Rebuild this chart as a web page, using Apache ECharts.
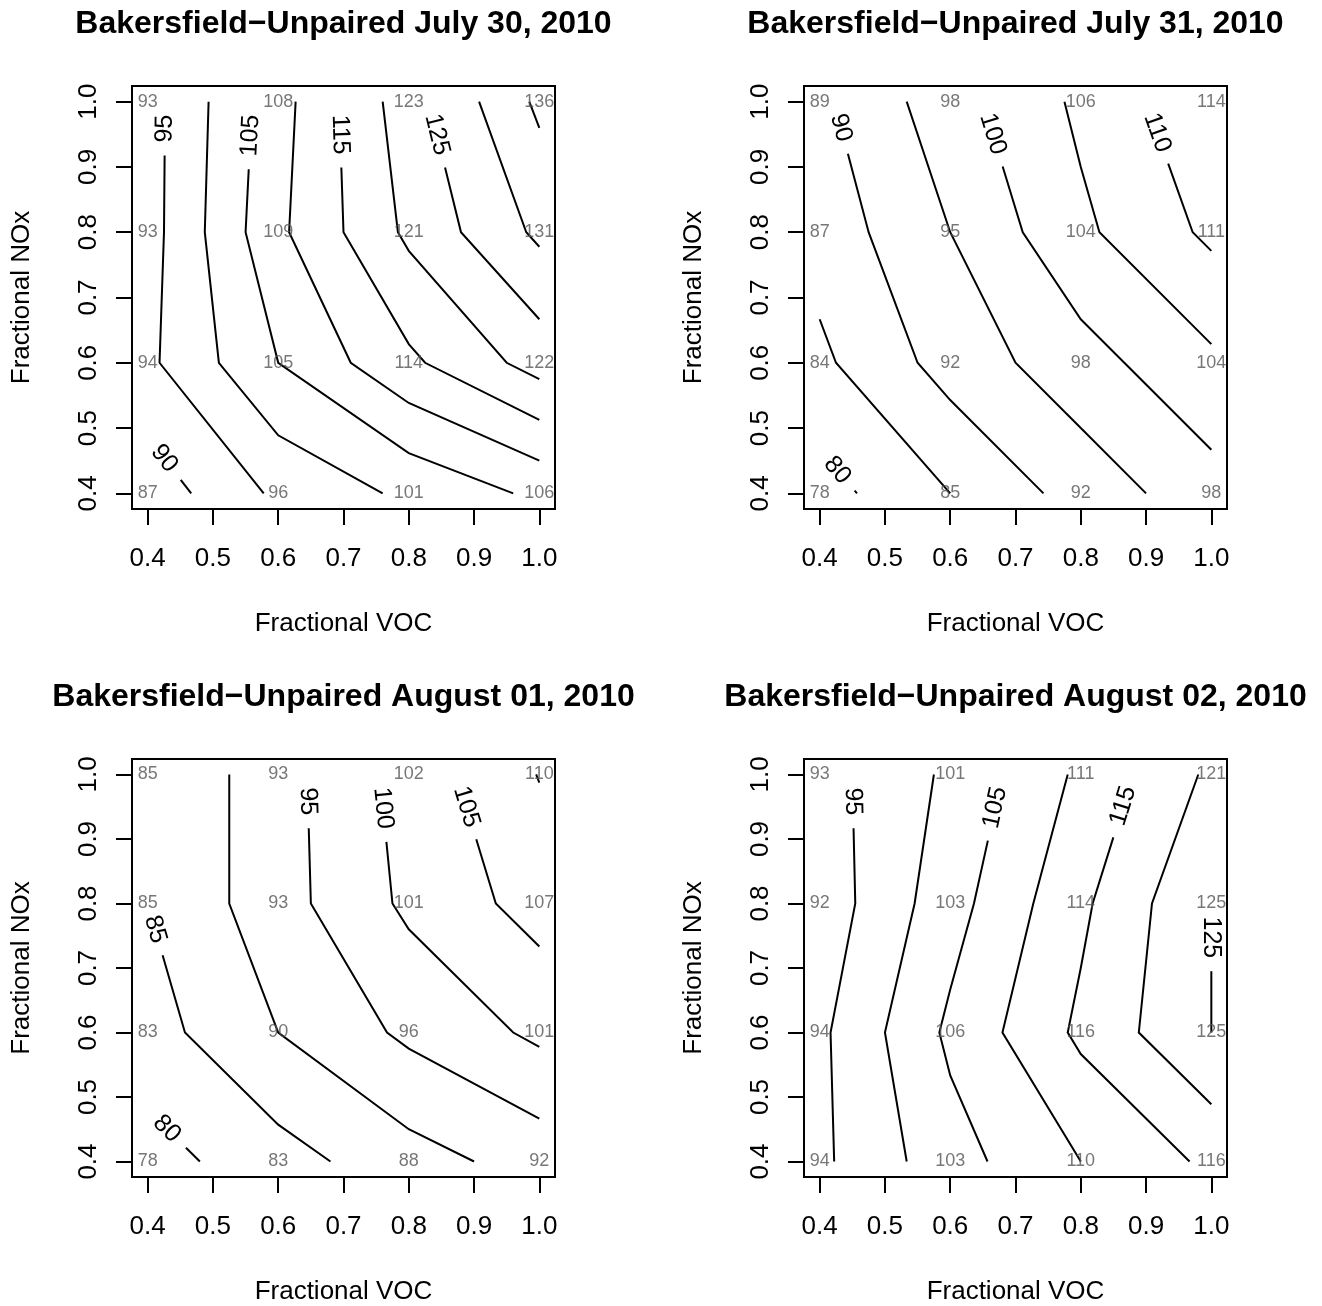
<!DOCTYPE html>
<html>
<head>
<meta charset="utf-8">
<script src="https://cdn.jsdelivr.net/npm/echarts@6.0.0/dist/echarts.min.js"></script>
<style>
  html, body { margin: 0; padding: 0; background: #fff; }
  #main { width: 1322px; height: 1306px; }
</style>
</head>
<body>
<div id="main"></div>
<script>
// axis ticks and the 4x4 model grid
var tickValues = [0.4, 0.5, 0.6, 0.7, 0.8, 0.9, 1.0];
var vocGrid = [0.4, 0.6, 0.8, 1.0];
var noxGrid = [1.0, 0.8, 0.6, 0.4];   // row order of the tables below (top row first)

var panelTitles = [
  'Bakersfield\u2212Unpaired July 30, 2010',
  'Bakersfield\u2212Unpaired July 31, 2010',
  'Bakersfield\u2212Unpaired August 01, 2010',
  'Bakersfield\u2212Unpaired August 02, 2010'
];

// ozone at each grid point, rows NOx 1.0 -> 0.4, columns VOC 0.4 -> 1.0
var jul30 = [[93, 108, 123, 136], [93, 109, 121, 131], [94, 105, 114, 122], [87, 96, 101, 106]];
var jul31 = [[89, 98, 106, 114], [87, 95, 104, 111], [84, 92, 98, 104], [78, 85, 92, 98]];
var aug01 = [[85, 93, 102, 110.2], [85, 93, 101, 107], [83, 90, 96, 101], [78, 83, 88, 92]];
var aug02 = [[93, 101, 111, 121], [92, 103, 114, 125], [94, 106, 116, 125], [94, 103, 110, 116]];

// contour levels and the ones that carry a label
var jul30Levels = [90, 95, 100, 105, 110, 115, 120, 125, 130, 135];
var jul30Labeled = [90, 95, 105, 115, 125];
var jul31Levels = [80, 85, 90, 95, 100, 105, 110];
var jul31Labeled = [80, 90, 100, 110];
var aug01Levels = [80, 85, 90, 95, 100, 105, 110];
var aug01Labeled = [80, 85, 95, 100, 105];
var aug02Levels = [95, 100, 105, 110, 115, 120, 125];
var aug02Labeled = [95, 105, 115, 125];

var FONT = 'Liberation Sans';
var LABEL_SIZE = 25;
var LABEL_PAD = 13;

var panels = [
  { values: jul30, levels: jul30Levels, labeled: jul30Labeled, left: 132, top: 86 },
  { values: jul31, levels: jul31Levels, labeled: jul31Labeled, left: 804, top: 86 },
  { values: aug01, levels: aug01Levels, labeled: aug01Labeled, left: 132, top: 759 },
  { values: aug02, levels: aug02Levels, labeled: aug02Labeled, left: 804, top: 759 }
];

// marching squares on the grid, chained into polylines
function contourLines(rows, level) {
  var xs = vocGrid, ys = noxGrid.slice().reverse();
  var z = rows.slice().reverse();
  function above(v) { return v >= level; }
  function cross(i0, j0, i1, j1) {
    var a = z[j0][i0], b = z[j1][i1];
    if (above(a) === above(b)) return null;
    var t = (level - a) / (b - a);
    return [xs[i0] + t * (xs[i1] - xs[i0]), ys[j0] + t * (ys[j1] - ys[j0])];
  }
  var segs = [];
  for (var j = 0; j < ys.length - 1; j++) {
    for (var i = 0; i < xs.length - 1; i++) {
      var e = [
        { key: 'h' + i + '_' + j, p: cross(i, j, i + 1, j) },
        { key: 'v' + (i + 1) + '_' + j, p: cross(i + 1, j, i + 1, j + 1) },
        { key: 'h' + i + '_' + (j + 1), p: cross(i, j + 1, i + 1, j + 1) },
        { key: 'v' + i + '_' + j, p: cross(i, j, i, j + 1) }
      ];
      var hit = e.filter(function (x) { return x.p; });
      if (hit.length === 2) segs.push(hit);
      else if (hit.length === 4) {
        var c = (z[j][i] + z[j][i + 1] + z[j + 1][i] + z[j + 1][i + 1]) / 4;
        if (above(c) === above(z[j][i])) { segs.push([e[0], e[1]]); segs.push([e[2], e[3]]); }
        else { segs.push([e[0], e[3]]); segs.push([e[1], e[2]]); }
      }
    }
  }
  var byKey = {}, used = [];
  segs.forEach(function (s, k) {
    s.forEach(function (x) { (byKey[x.key] = byKey[x.key] || []).push(k); });
  });
  function walk(k, fromKey) {
    var first = segs[k][0].key === fromKey ? segs[k][0] : segs[k][1];
    var pts = [first.p], cur = k, curKey = first.key;
    while (cur !== undefined && !used[cur]) {
      used[cur] = true;
      var s = segs[cur];
      var out = s[0].key === curKey ? s[1] : s[0];
      pts.push(out.p);
      curKey = out.key;
      cur = byKey[curKey].filter(function (m) { return !used[m]; })[0];
    }
    return pts;
  }
  var lines = [];
  segs.forEach(function (s, k) {
    s.forEach(function (x) {
      if (!used[k] && byKey[x.key].length === 1) lines.push(walk(k, x.key));
    });
  });
  segs.forEach(function (s, k) { if (!used[k]) lines.push(walk(k, s[0].key)); });
  // start from the upper (then left) end, where the label goes
  return lines.map(function (pts) {
    var a = pts[0], b = pts[pts.length - 1];
    if (b[1] > a[1] + 1e-9 || (Math.abs(b[1] - a[1]) < 1e-9 && b[0] < a[0])) pts.reverse();
    return pts;
  });
}

var measureCtx = document.createElement('canvas').getContext('2d');
function textWidth(s, size) {
  measureCtx.font = size + 'px "' + FONT + '"';
  return measureCtx.measureText(s).width;
}

function splitAtLabel(px, gap) {
  var acc = 0, mid = null, ang = 0, rest = null, half = gap / 2;
  for (var i = 0; i < px.length - 1; i++) {
    var a = px[i], b = px[i + 1];
    var len = Math.hypot(b[0] - a[0], b[1] - a[1]);
    if (len === 0) continue;
    if (!mid && acc + len >= half) {
      var t = (half - acc) / len;
      mid = [a[0] + t * (b[0] - a[0]), a[1] + t * (b[1] - a[1])];
      ang = Math.atan2(-(b[1] - a[1]), b[0] - a[0]);
    }
    if (acc + len >= gap) {
      var t2 = (gap - acc) / len;
      rest = [[a[0] + t2 * (b[0] - a[0]), a[1] + t2 * (b[1] - a[1])]].concat(px.slice(i + 1));
      break;
    }
    acc += len;
  }
  if (ang > Math.PI / 2) ang -= Math.PI;
  if (ang < -Math.PI / 2) ang += Math.PI;
  return { mid: mid || px[px.length - 1], angle: ang, rest: rest || [] };
}

function makeRender(lines) {
  return function (params, api) {
    var line = lines[params.dataIndex];
    var px = line.pts.map(function (p) { return api.coord(p); });
    var children = [];
    if (line.labeled) {
      var txt = String(line.level);
      var cut = splitAtLabel(px, textWidth(txt, LABEL_SIZE) + 2 * LABEL_PAD);
      px = cut.rest;
      children.push({
        type: 'text', x: cut.mid[0], y: cut.mid[1], rotation: cut.angle,
        style: { text: txt, fill: '#000', fontSize: LABEL_SIZE, fontFamily: FONT, align: 'center', verticalAlign: 'middle' }
      });
    }
    if (px.length > 1) {
      children.push({ type: 'polyline', shape: { points: px }, style: { stroke: '#000', lineWidth: 2, fill: null } });
    }
    return { type: 'group', children: children };
  };
}

var option = { animation: false, backgroundColor: '#fff', title: [], grid: [], xAxis: [], yAxis: [], series: [] };

panels.forEach(function (p, k) {
  option.title.push({
    text: panelTitles[k], left: p.left + 211.5, top: p.top - 78, textAlign: 'center', padding: 0,
    textStyle: { fontFamily: FONT, fontSize: 32, fontWeight: 'bold', color: '#000' }
  });
  option.grid.push({
    left: p.left, top: p.top, width: 423, height: 423,
    show: true, borderColor: '#000', borderWidth: 2, backgroundColor: 'transparent'
  });
  option.xAxis.push({
    type: 'value', gridIndex: k, min: 0.376, max: 1.024,
    name: 'Fractional VOC', nameLocation: 'middle', nameGap: 102,
    nameTextStyle: { fontFamily: FONT, fontSize: 26, color: '#000' },
    axisLine: { show: false }, splitLine: { show: false },
    axisTick: { show: true, length: 16, customValues: tickValues, lineStyle: { color: '#000', width: 2 } },
    axisLabel: {
      customValues: tickValues, margin: 37, fontFamily: FONT, fontSize: 26, color: '#000',
      formatter: function (v) { return v.toFixed(1); }
    }
  });
  option.yAxis.push({
    type: 'value', gridIndex: k, min: 0.376, max: 1.024,
    name: 'Fractional NOx', nameLocation: 'middle', nameGap: 97,
    nameTextStyle: { fontFamily: FONT, fontSize: 26, color: '#000' },
    axisLine: { show: false }, splitLine: { show: false },
    axisTick: { show: true, length: 16, customValues: tickValues, lineStyle: { color: '#000', width: 2 } },
    axisLabel: {
      customValues: tickValues, margin: 30, rotate: 90, fontFamily: FONT, fontSize: 26, color: '#000',
      formatter: function (v) { return v.toFixed(1); }
    }
  });

  // grid-point values
  var cells = [];
  p.values.forEach(function (row, r) {
    row.forEach(function (v, c) { cells.push([vocGrid[c], noxGrid[r], v]); });
  });
  option.series.push({
    type: 'scatter', xAxisIndex: k, yAxisIndex: k, data: cells, symbolSize: 0, silent: true,
    label: {
      show: true, position: 'inside', fontFamily: FONT, fontSize: 18, color: '#555',
      formatter: function (d) { return String(Math.round(d.value[2])); }
    }
  });

  // contour lines
  var lines = [];
  p.levels.forEach(function (lv) {
    contourLines(p.values, lv).forEach(function (pts) {
      lines.push({ level: lv, pts: pts, labeled: p.labeled.indexOf(lv) >= 0 });
    });
  });
  option.series.push({
    type: 'custom', xAxisIndex: k, yAxisIndex: k, silent: true,
    encode: { x: 0, y: 1 },
    data: lines.map(function (l, n) { return [l.pts[0][0], l.pts[0][1], n]; }),
    renderItem: makeRender(lines)
  });
});

var chart = echarts.init(document.getElementById('main'));
chart.setOption(option);
</script>
</body>
</html>
